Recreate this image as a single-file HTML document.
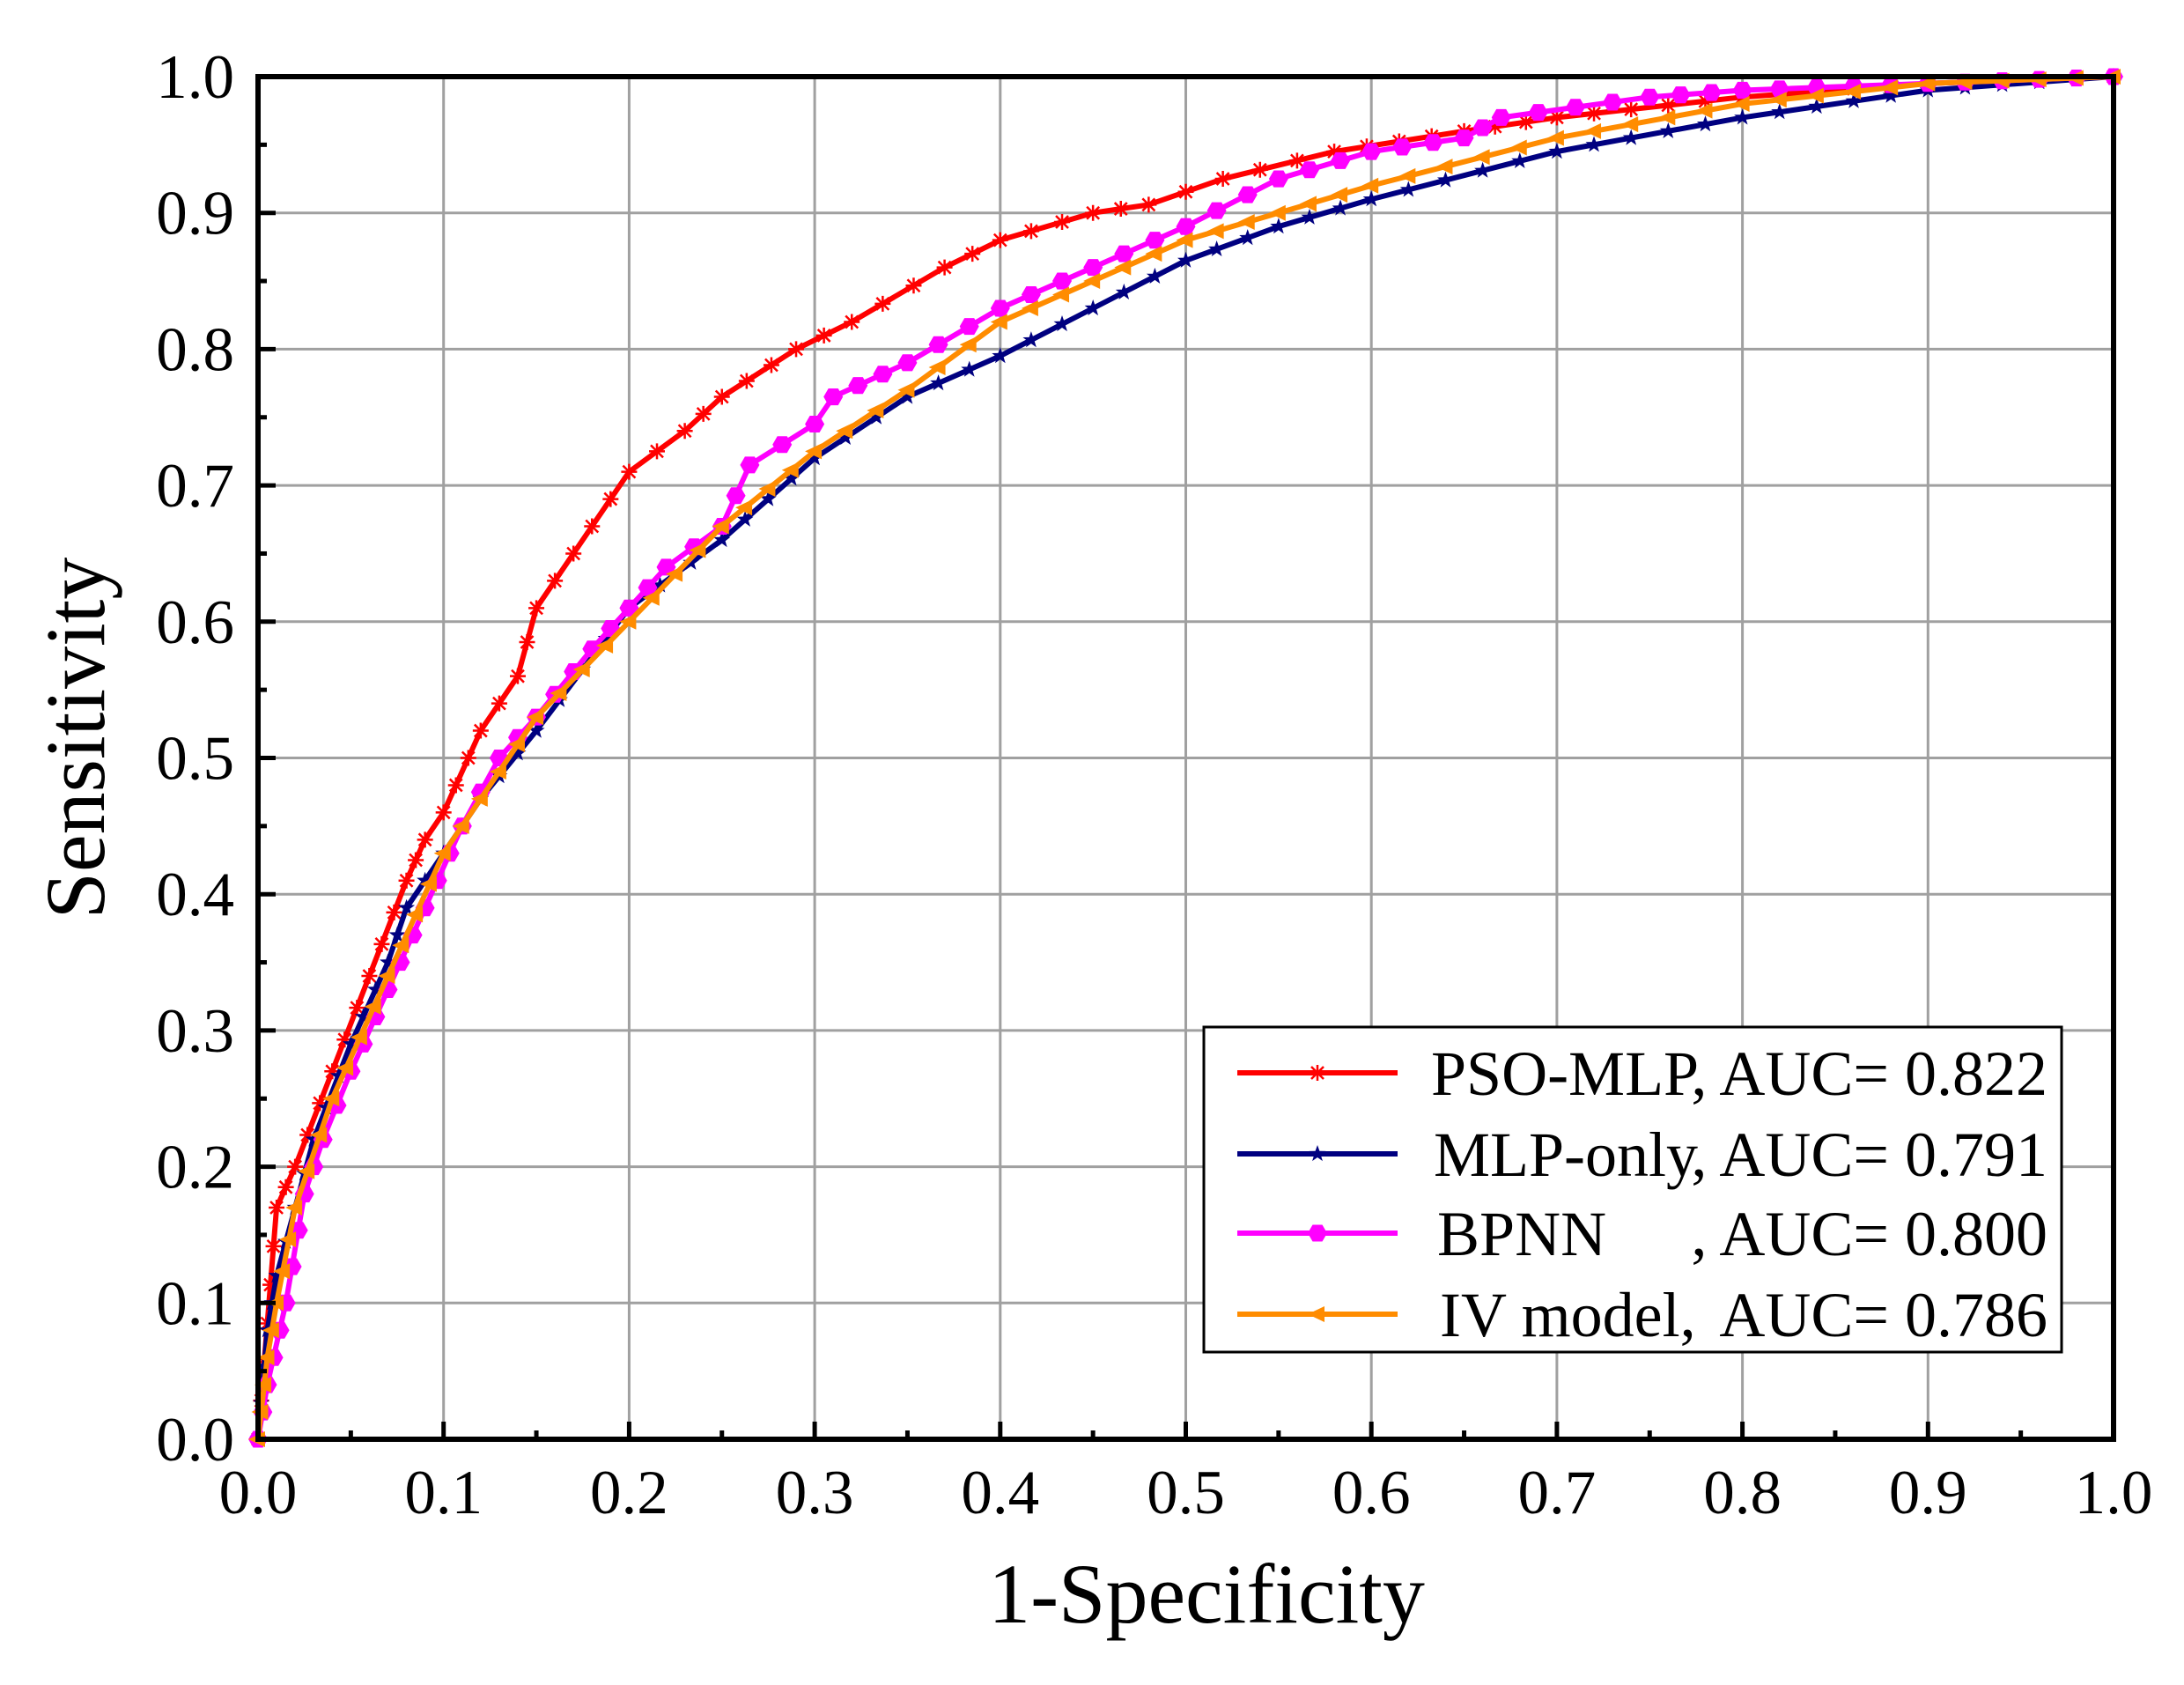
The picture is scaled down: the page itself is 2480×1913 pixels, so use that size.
<!DOCTYPE html>
<html><head><meta charset="utf-8">
<style>
html,body{margin:0;padding:0;background:#fff}
svg{display:block}
text{font-family:"Liberation Serif",serif;fill:#000;white-space:pre}
</style></head>
<body>
<svg id="s" width="2480" height="1913" viewBox="0 0 2480 1913" xmlns="http://www.w3.org/2000/svg">
<g id="grid"></g>
<g id="series"></g>
<g id="axes"></g>
<text x="1370" y="1842" font-size="96" text-anchor="middle">1-Specificity</text>
<text transform="translate(118,838) rotate(-90)" font-size="96" text-anchor="middle">Sensitivity</text>
<g id="legend">
<rect x="1367" y="1166" width="974" height="369" fill="#fff" stroke="#000" stroke-width="3"/>
</g>
</svg>
<script>
const X0=293,X1=2400,Y0=1634,Y1=87;
const px=x=>X0+x*(X1-X0), py=y=>Y0-y*(Y0-Y1);
const NS="http://www.w3.org/2000/svg";
function el(p,t,a,txt){const e=document.createElementNS(NS,t);for(const k in a)e.setAttribute(k,a[k]);if(txt!==undefined)e.textContent=txt;document.getElementById(p).appendChild(e);return e;}
for(let i=1;i<10;i++){
 el("grid","line",{x1:px(i/10),x2:px(i/10),y1:Y0,y2:Y1,stroke:"#a0a0a0","stroke-width":3});
 el("grid","line",{x1:X0,x2:X1,y1:py(i/10),y2:py(i/10),stroke:"#a0a0a0","stroke-width":3});
}
for(let i=0;i<=20;i++){
 const L=i%2?10:20;
 el("axes","line",{x1:px(i/20),x2:px(i/20),y1:Y0,y2:Y0-L,stroke:"#000","stroke-width":5});
 el("axes","line",{x1:X0,x2:X0+L,y1:py(i/20),y2:py(i/20),stroke:"#000","stroke-width":5});
}
el("axes","rect",{x:X0,y:Y1,width:X1-X0,height:Y0-Y1,fill:"none",stroke:"#000","stroke-width":6});
for(let i=0;i<=10;i++){
 const s=(i/10).toFixed(1);
 el("axes","text",{x:px(i/10),y:1718,"font-size":71,"text-anchor":"middle"},s);
 el("axes","text",{x:266,y:py(i/10)+24,"font-size":71,"text-anchor":"end"},s);
}
const S=[
{c:"#ff0000",m:"star",d:[[0,0],[0.01,0.17],[0.02,0.2],[0.04,0.27],[0.06,0.34],[0.08,0.41],[0.09,0.44],[0.1,0.46],[0.12,0.52],[0.14,0.56],[0.15,0.61],[0.17,0.65],[0.19,0.69],[0.2,0.71],[0.23,0.74],[0.25,0.765],[0.29,0.8],[0.32,0.82],[0.37,0.86],[0.4,0.88],[0.45,0.9],[0.48,0.906],[0.52,0.925],[0.58,0.945],[0.65,0.96],[0.7,0.97],[0.8,0.985],[0.9,0.995],[1,1]]},
{c:"#000080",m:"star5",d:[[0,0],[0.005,0.08],[0.01,0.12],[0.03,0.22],[0.05,0.29],[0.07,0.35],[0.08,0.39],[0.09,0.41],[0.1,0.43],[0.12,0.47],[0.15,0.52],[0.2,0.61],[0.25,0.66],[0.3,0.72],[0.35,0.765],[0.4,0.795],[0.45,0.83],[0.5,0.865],[0.55,0.89],[0.6,0.91],[0.7,0.945],[0.8,0.97],[0.9,0.99],[1,1]]},
{c:"#ff00ff",m:"hex",d:[[0,0],[0.005,0.04],[0.015,0.1],[0.025,0.18],[0.035,0.22],[0.05,0.27],[0.07,0.33],[0.09,0.39],[0.11,0.45],[0.13,0.5],[0.15,0.53],[0.18,0.58],[0.2,0.61],[0.22,0.64],[0.25,0.67],[0.265,0.715],[0.3,0.745],[0.31,0.765],[0.35,0.79],[0.4,0.83],[0.45,0.86],[0.5,0.89],[0.55,0.925],[0.6,0.945],[0.65,0.955],[0.67,0.97],[0.75,0.985],[0.8,0.99],[1,1]]},
{c:"#ff8c00",m:"tri",d:[[0,0],[0.005,0.06],[0.01,0.1],[0.02,0.17],[0.04,0.25],[0.07,0.34],[0.1,0.43],[0.12,0.47],[0.15,0.53],[0.2,0.6],[0.25,0.67],[0.3,0.725],[0.35,0.77],[0.4,0.82],[0.45,0.85],[0.5,0.88],[0.55,0.9],[0.6,0.92],[0.7,0.955],[0.8,0.98],[0.9,0.995],[1,1]]}
];
function marker(g,m,x,y,c){
 if(m==="star"){el(g,"path",{d:`M${x-9},${y}h18M${x},${y-9}v18M${x-7},${y-7}l14,14M${x-7},${y+7}l14,-14`,stroke:c,"stroke-width":2.5});}
 else if(m==="star5"){let p="";for(let k=0;k<10;k++){const r=k%2?4:10,a=-Math.PI/2+k*Math.PI/5;p+=(k?"L":"M")+(x+r*Math.cos(a)).toFixed(1)+","+(y+r*Math.sin(a)).toFixed(1);}el(g,"path",{d:p+"Z",fill:c});}
 else if(m==="hex"){let p="";for(let k=0;k<6;k++){const a=k*Math.PI/3;p+=(k?"L":"M")+(x+11*Math.cos(a)).toFixed(1)+","+(y+11*Math.sin(a)).toFixed(1);}el(g,"path",{d:p+"Z",fill:c});}
 else {el(g,"path",{d:`M${x-11},${y}L${x+8},${y-9}L${x+8},${y+9}Z`,fill:c});}
}
S.forEach(s=>{
 const pts=s.d.map(p=>[px(p[0]),py(p[1])]);
 el("series","polyline",{points:pts.map(p=>p.join(",")).join(" "),fill:"none",stroke:s.c,"stroke-width":6,"stroke-linejoin":"round"});
 for(let i=0;i<pts.length;i++){
  marker("series",s.m,pts[i][0],pts[i][1],s.c);
  if(i<pts.length-1){const dx=pts[i+1][0]-pts[i][0],dy=pts[i+1][1]-pts[i][1],d=Math.hypot(dx,dy),n=Math.floor(d/45);
   for(let k=1;k<=n;k++){const t=k/(n+1);marker("series",s.m,pts[i][0]+dx*t,pts[i][1]+dy*t,s.c);}}
 }
});
const L=[["PSO-MLP",", AUC= 0.822",1218,1625],["MLP-only",", AUC= 0.791",1310,1628],["BPNN",", AUC= 0.800",1400,1632],["IV model,",", AUC= 0.786",1492,1635]];
L.forEach((l,i)=>{
 el("legend","line",{x1:1405,x2:1587,y1:l[2],y2:l[2],stroke:S[i].c,"stroke-width":6});
 marker("legend",S[i].m,1496,l[2],S[i].c);
 if(i===3){
  el("legend","text",{x:l[3],y:l[2]+25,"font-size":72},"IV model,");
  el("legend","text",{x:2325,y:l[2]+25,"font-size":72,"text-anchor":"end"},"AUC= 0.786");
 } else {
  el("legend","text",{x:l[3],y:l[2]+25,"font-size":72},l[0]);
  el("legend","text",{x:2325,y:l[2]+25,"font-size":72,"text-anchor":"end"},l[1]);
 }
});
</script>
</body></html>
